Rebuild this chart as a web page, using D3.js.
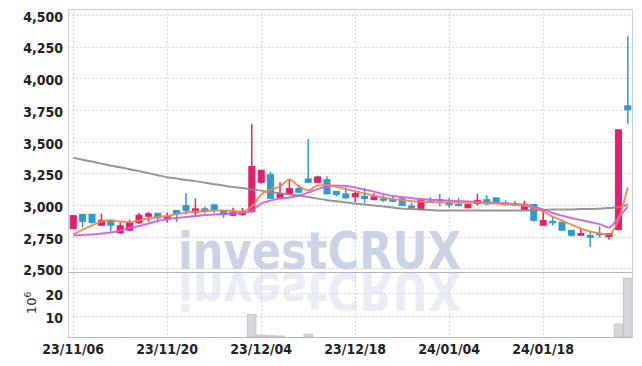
<!DOCTYPE html>
<html>
<head>
<meta charset="utf-8">
<script src="https://cdn.jsdelivr.net/npm/d3@7"></script>
<style>
body { margin: 0; background: #fff; }
svg { display: block; }
.axis text { font-family: 'Liberation Sans Narrow', 'DejaVu Sans Condensed', sans-serif; font-size: 14px; font-weight: bold; fill: #222; }
</style>
</head>
<body>
<svg width="642" height="366"></svg>
<script>
const svg = d3.select('svg')

const dates = [
	'2023-11-06', '2023-11-07', '2023-11-08', '2023-11-09', '2023-11-10', '2023-11-13', '2023-11-14', '2023-11-15', '2023-11-16', '2023-11-17',
	'2023-11-20', '2023-11-21', '2023-11-22', '2023-11-23', '2023-11-24', '2023-11-27', '2023-11-28', '2023-11-29', '2023-11-30', '2023-12-01',
	'2023-12-04', '2023-12-05', '2023-12-06', '2023-12-07', '2023-12-08', '2023-12-11', '2023-12-12', '2023-12-13', '2023-12-14', '2023-12-15',
	'2023-12-18', '2023-12-19', '2023-12-20', '2023-12-21', '2023-12-22', '2023-12-26', '2023-12-27', '2023-12-28', '2024-01-02', '2024-01-03',
	'2024-01-04', '2024-01-05', '2024-01-08', '2024-01-09', '2024-01-10', '2024-01-11', '2024-01-12', '2024-01-15', '2024-01-16', '2024-01-17',
	'2024-01-18', '2024-01-19', '2024-01-22', '2024-01-23', '2024-01-24', '2024-01-25', '2024-01-26', '2024-01-29', '2024-01-30', '2024-01-31'
]
const open = [
	2815, 2927, 2927, 2841, 2878, 2781, 2802, 2860, 2912, 2935,
	2890, 2957, 2996, 2943, 2970, 3002, 2957, 2920, 2925, 2951,
	3180, 3240, 3057, 3091, 3130, 3206, 3180, 3201, 3108, 3088,
	3065, 3069, 3043, 3049, 3043, 3049, 2992, 2965, 3030, 3043,
	3017, 3006, 2978, 3012, 3043, 3057, 3017, 3009, 2965, 3004,
	2841, 2872, 2865, 2801, 2762, 2760, 2776, 2750, 2807, 3783
]
const high = [
	2917, 2930, 2930, 2933, 2880, 2865, 2886, 2938, 2946, 2938,
	2942, 2960, 3096, 3051, 2986, 3005, 2960, 2978, 2978, 3642,
	3274, 3261, 3180, 3206, 3161, 3521, 3232, 3227, 3110, 3140,
	3104, 3135, 3096, 3077, 3069, 3057, 3017, 3043, 3061, 3088,
	3057, 3057, 3010, 3090, 3075, 3057, 3038, 3035, 3035, 3004,
	2957, 2907, 2865, 2801, 2815, 2794, 2833, 2776, 3594, 4335
]
const low = [
	2815, 2822, 2855, 2836, 2791, 2773, 2798, 2851, 2870, 2860,
	2862, 2868, 2925, 2920, 2933, 2938, 2899, 2912, 2917, 2939,
	3169, 3053, 3051, 3091, 3093, 3175, 3180, 3088, 3069, 3051,
	3025, 3017, 3038, 3025, 3022, 2996, 2970, 2965, 3017, 2990,
	2978, 2990, 2978, 2996, 2998, 3022, 2998, 2996, 2965, 2868,
	2841, 2838, 2801, 2750, 2762, 2668, 2742, 2728, 2800, 3642
]
const close = [
	2917, 2872, 2862, 2880, 2841, 2836, 2860, 2920, 2931, 2899,
	2910, 2931, 2959, 2970, 2949, 2959, 2925, 2943, 2949, 3305,
	3274, 3053, 3088, 3130, 3101, 3180, 3222, 3088, 3083, 3057,
	3091, 3051, 3065, 3038, 3030, 2996, 2988, 3035, 3022, 3035,
	3002, 2996, 3006, 3035, 3009, 3022, 3002, 3002, 3004, 2880,
	2878, 2860, 2801, 2762, 2776, 2746, 2765, 2776, 3594, 3752
]
// volume, millions of shares
const volume = [
	0.3, 0.2, 0.2, 0.2, 0.2, 0.2, 0.2, 0.3, 0.2, 0.2,
	0.2, 0.2, 0.4, 0.3, 0.2, 0.2, 0.2, 0.2, 0.2, 10.6,
	1.6, 1.3, 1.2, 0.5, 0.3, 2.0, 0.4, 0.4, 0.2, 0.2,
	0.2, 0.2, 0.2, 0.2, 0.2, 0.2, 0.2, 0.3, 0.2, 0.2,
	0.2, 0.2, 0.2, 0.3, 0.2, 0.2, 0.2, 0.2, 0.2, 0.3,
	0.2, 0.2, 0.2, 0.2, 0.2, 0.3, 0.2, 0.2, 6.4, 26.3
]
const ma5 = [
	2768, 2807, 2839, 2870, 2880, 2870, 2865, 2878, 2894, 2906,
	2913, 2929, 2941, 2949, 2953, 2957, 2957, 2953, 2949, 2988,
	3083, 3122, 3148, 3201, 3148, 3117, 3154, 3159, 3143, 3126,
	3109, 3091, 3075, 3059, 3047, 3039, 3031, 3028, 3024, 3020,
	3020, 3020, 3020, 3020, 3016, 3012, 3008, 3004, 2996, 2976,
	2949, 2909, 2878, 2846, 2815, 2791, 2776, 2768, 2885, 3138
]
const ma10 = [
	2760, 2764, 2768, 2776, 2783, 2799, 2819, 2835, 2854, 2874,
	2891, 2898, 2906, 2913, 2921, 2925, 2929, 2933, 2937, 2957,
	3012, 3035, 3051, 3059, 3075, 3098, 3126, 3146, 3154, 3150,
	3138, 3122, 3106, 3087, 3071, 3063, 3055, 3047, 3043, 3039,
	3035, 3031, 3028, 3024, 3020, 3016, 3012, 3008, 3004, 2988,
	2965, 2937, 2917, 2898, 2882, 2866, 2850, 2823, 2902, 2988
]
const ma120 = [
	3374, 3358, 3343, 3327, 3311, 3299, 3283, 3268, 3252, 3236,
	3220, 3209, 3197, 3189, 3177, 3165, 3154, 3142, 3134, 3122,
	3114, 3102, 3094, 3083, 3075, 3063, 3051, 3039, 3031, 3020,
	3012, 3004, 2996, 2988, 2980, 2972, 2969, 2965, 2961, 2957,
	2957, 2957, 2957, 2957, 2957, 2957, 2957, 2957, 2957, 2961,
	2961, 2965, 2965, 2965, 2969, 2969, 2972, 2976, 2984, 3004
]
const priceTicks = [2500, 2750, 3000, 3250, 3500, 3750, 4000, 4250, 4500]
const volumeTicks = [10, 20]
const dateTicks = ['2023-11-06', '2023-11-20', '2023-12-04', '2023-12-18', '2024-01-04', '2024-01-18']

const plotLeft = 68.5
const plotRight = 632.5
const plotTop = 9
const priceBottom = 272
const volBottom = 337

const up = '#e61d6c'
const down = '#2e9ad0'

const x = d3.scaleBand().domain(dates).range([plotLeft, plotRight])
const cx = d => x(d) + x.bandwidth() / 2
const y = d3.scaleLinear().domain([2472, 4547]).range([priceBottom, plotTop])
const yVol = d3.scaleLinear().domain([0, 29]).range([338.7, priceBottom])
const parse = d3.timeParse('%Y-%m-%d')
const fmt = d3.timeFormat('%y/%m/%d')

const candles = dates.map((d, i) => ({
	date: d, open: open[i], high: high[i], low: low[i], close: close[i], volume: volume[i]
}))

// grid
const grid = svg.append('g')
	.attr('stroke', '#c4c8da')
	.attr('stroke-width', 1)
	.attr('stroke-dasharray', '1.5,2.5')

grid.selectAll('.hp')
	.data(priceTicks)
	.enter()
	.append('line')
	.attr('x1', plotLeft).attr('x2', plotRight)
	.attr('y1', d => Math.round(y(d)) + 0.5)
	.attr('y2', d => Math.round(y(d)) + 0.5)

grid.selectAll('.hv')
	.data(volumeTicks)
	.enter()
	.append('line')
	.attr('x1', plotLeft).attr('x2', plotRight)
	.attr('y1', d => Math.round(yVol(d)) + 0.5)
	.attr('y2', d => Math.round(yVol(d)) + 0.5)

grid.selectAll('.vx')
	.data(dateTicks)
	.enter()
	.append('line')
	.attr('x1', d => Math.round(cx(d)) + 0.5)
	.attr('x2', d => Math.round(cx(d)) + 0.5)
	.attr('y1', plotTop).attr('y2', volBottom)

// watermark with reflection
const mark = svg.append('g')
	.attr('font-family', "'DejaVu Sans Condensed', 'DejaVu Sans', sans-serif")
	.attr('font-weight', 'bold')
	.attr('font-size', 51)
mark.append('text')
	.attr('x', 178).attr('y', 269)
	.attr('textLength', 283)
	.attr('lengthAdjust', 'spacingAndGlyphs')
	.attr('fill', '#c7cee3')
	.attr('opacity', 0.88)
	.text('investCRUX')
mark.append('text')
	.attr('x', 178).attr('y', -273)
	.attr('transform', 'scale(1,-1)')
	.attr('textLength', 283)
	.attr('lengthAdjust', 'spacingAndGlyphs')
	.attr('fill', '#c7cee3')
	.attr('opacity', 0.38)
	.text('investCRUX')

// volume
svg.append('g')
	.selectAll('rect')
	.data(candles.filter(d => yVol(d.volume) < volBottom))
	.enter()
	.append('rect')
	.attr('x', d => x(d.date) + 0.5)
	.attr('width', x.bandwidth() - 1)
	.attr('y', d => yVol(d.volume))
	.attr('height', d => volBottom - yVol(d.volume))
	.attr('fill', '#d7d7dc')
	.attr('stroke', '#bdbdc6')
	.attr('stroke-width', 0.8)

// borders
const frame = svg.append('g').attr('fill', 'none')
frame.append('rect')
	.attr('x', plotLeft).attr('y', plotTop + 0.5)
	.attr('width', plotRight - plotLeft).attr('height', volBottom - plotTop)
	.attr('stroke', '#cfd0da')
frame.append('line')
	.attr('x1', plotLeft).attr('x2', plotRight)
	.attr('y1', priceBottom + 0.5).attr('y2', priceBottom + 0.5)
	.attr('stroke', '#b4b4bc')
frame.append('line')
	.attr('x1', plotLeft).attr('x2', plotRight)
	.attr('y1', volBottom + 0.5).attr('y2', volBottom + 0.5)
	.attr('stroke', '#b4b4bc')

// candles
const candle = svg.append('g')
	.selectAll('.candle')
	.data(candles)
	.enter()
	.append('g')
	.attr('class', 'candle')
	.attr('stroke', d => d.close >= d.open ? up : down)
	.attr('fill', d => d.close >= d.open ? up : down)

candle.append('line')
	.attr('x1', d => cx(d.date))
	.attr('x2', d => cx(d.date))
	.attr('y1', d => y(d.high))
	.attr('y2', d => y(d.low))
	.attr('stroke-width', 1.5)

candle.append('rect')
	.attr('x', d => cx(d.date) - 3)
	.attr('width', 6)
	.attr('y', d => y(Math.max(d.open, d.close)))
	.attr('height', d => Math.max(1.2, Math.abs(y(d.open) - y(d.close))))
	.attr('stroke-width', 1)

// moving averages
const maLine = arr => d3.line()
	.x((d, i) => cx(dates[i]))
	.y(d => y(d))
	.curve(d3.curveMonotoneX)(arr)

const mas = [
	{ values: ma120, color: '#8a8a8a' },
	{ values: ma10, color: '#cc5be0' },
	{ values: ma5, color: '#f0844c' },
]
svg.append('g')
	.selectAll('path')
	.data(mas)
	.enter()
	.append('path')
	.attr('d', d => maLine(d.values))
	.attr('fill', 'none')
	.attr('stroke', d => d.color)
	.attr('stroke-width', 2)
	.attr('stroke-opacity', 0.9)

// axes
const yAxis = svg.append('g')
	.attr('class', 'axis')
	.attr('transform', 'translate(63,0)')
	.call(d3.axisLeft(y).tickValues(priceTicks).tickSize(0).tickPadding(0).tickFormat(d3.format(',')))
const volAxis = svg.append('g')
	.attr('class', 'axis')
	.attr('transform', 'translate(63,0)')
	.call(d3.axisLeft(yVol).tickValues(volumeTicks).tickSize(0).tickPadding(0))
const xAxis = svg.append('g')
	.attr('class', 'axis')
	.attr('transform', `translate(0,${volBottom + 5})`)
	.call(d3.axisBottom(x).tickValues(dateTicks).tickSize(0).tickPadding(0).tickFormat(d => fmt(parse(d))))

svg.selectAll('.axis .domain').remove()
yAxis.selectAll('text').attr('dy', '0.45em')
volAxis.selectAll('text').attr('dy', '0.45em')
xAxis.selectAll('text').attr('dy', '0.85em')

const unit = svg.append('text')
	.attr('transform', 'translate(36,303) rotate(-90)')
	.attr('text-anchor', 'middle')
	.attr('font-family', "'DejaVu Sans', sans-serif")
	.attr('font-size', 13)
	.attr('fill', '#333')
unit.append('tspan').text('10')
unit.append('tspan').attr('baseline-shift', 'super').attr('font-size', 9).text('6')
</script>
</body>
</html>
